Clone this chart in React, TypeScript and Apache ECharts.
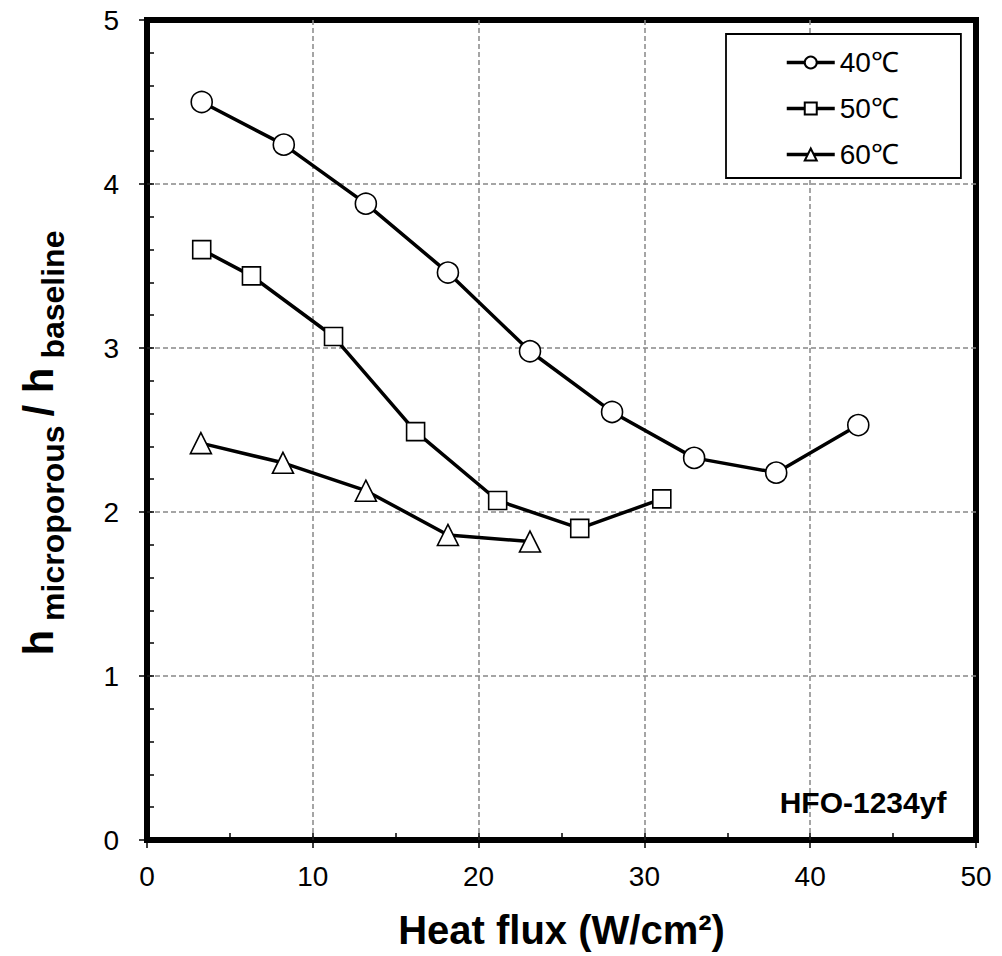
import React, { useEffect, useRef } from "react";
import * as echarts from "echarts";

const heatFlux40 = [3.3, 8.25, 13.2, 18.15, 23.1, 28.05, 33.0, 37.95, 42.9];
const ratio40 = [4.5, 4.24, 3.88, 3.46, 2.98, 2.61, 2.33, 2.24, 2.53];
const heatFlux50 = [3.3, 6.3, 11.25, 16.2, 21.15, 26.1, 31.05];
const ratio50 = [3.6, 3.44, 3.07, 2.49, 2.07, 1.9, 2.08];
const heatFlux60 = [3.25, 8.2, 13.2, 18.15, 23.1];
const ratio60 = [2.42, 2.3, 2.13, 1.86, 1.82];

const seriesNames = ["40℃", "50℃", "60℃"];
const xTicks = [0, 10, 20, 30, 40, 50];
const yTicks = [0, 1, 2, 3, 4, 5];

const FONT = "'Liberation Sans', Arial, sans-serif";

function pairs(xs: number[], ys: number[]) {
  return xs.map((x, i) => [x, ys[i]]);
}

export default function App() {
  const ref = useRef<HTMLDivElement>(null);
  useEffect(() => {
    if (!ref.current) return;
    const chart = echarts.init(ref.current, undefined, { renderer: "svg" });
    const lineSeries = (name: string, data: number[][], symbol: string, size: number) => ({
      name,
      type: "line",
      data,
      xAxisIndex: 0,
      yAxisIndex: 0,
      symbol,
      symbolSize: size,
      showAllSymbol: true,
      lineStyle: { color: "#000", width: 3.5 },
      itemStyle: { color: "#fff", borderColor: "#000", borderWidth: 1.6 },
      emphasis: { disabled: true },
      z: 3,
    });
    const gridLine = { show: true, showMinLine: false, showMaxLine: false, lineStyle: { color: "#888", width: 1.5, type: [5, 3] } };
    chart.setOption({
      animation: false,
      backgroundColor: "#fff",
      grid: {
        left: 147,
        top: 20,
        right: 26,
        bottom: 116,
        show: true,
        borderColor: "#000",
        borderWidth: 6,
        backgroundColor: "transparent",
        containLabel: false,
      },
      xAxis: [
        {
          type: "value",
          min: xTicks[0],
          max: xTicks[xTicks.length - 1],
          interval: 10,
          position: "bottom",
          axisLine: { show: false },
          axisTick: { show: true, inside: false, length: 8, lineStyle: { color: "#000", width: 1.5 } },
          axisLabel: { color: "#000", fontSize: 28, fontFamily: FONT, margin: 22 },
          splitLine: gridLine,
          name: "Heat flux (W/cm²)",
          nameLocation: "middle",
          nameGap: 70,
          nameTextStyle: { color: "#000", fontSize: 40, fontWeight: "bold", fontFamily: FONT },
        },
        {
          type: "value",
          min: 0,
          max: 50,
          interval: 5,
          position: "bottom",
          axisLine: { show: false },
          axisTick: { show: true, inside: true, length: 7, lineStyle: { color: "#000", width: 1.5 } },
          axisLabel: { show: false },
          splitLine: { show: false },
        },
      ],
      yAxis: [
        {
          type: "value",
          min: yTicks[0],
          max: yTicks[yTicks.length - 1],
          interval: 1,
          position: "left",
          axisLine: { show: false },
          axisTick: { show: true, inside: false, length: 8, lineStyle: { color: "#000", width: 1.5 } },
          axisLabel: { color: "#000", fontSize: 28, fontFamily: FONT, margin: 28 },
          splitLine: gridLine,
        },
        {
          type: "value",
          min: 0,
          max: 5,
          interval: 0.2,
          position: "left",
          axisLine: { show: false },
          axisTick: { show: true, inside: true, length: 7, lineStyle: { color: "#000", width: 1.5 } },
          axisLabel: { show: false },
          splitLine: { show: false },
        },
      ],
      legend: {
        data: seriesNames,
        orient: "vertical",
        left: 726,
        top: 34,
        padding: [14, 62, 9, 59],
        itemGap: 17,
        itemWidth: 48,
        itemHeight: 15,
        backgroundColor: "#fff",
        borderColor: "#000",
        borderWidth: 1.8,
        borderRadius: 0,
        lineStyle: { width: 3.5, color: "#000" },
        textStyle: { color: "#000", fontSize: 28, lineHeight: 29, fontFamily: FONT },
        selectedMode: false,
      },
      graphic: [
        {
          type: "text",
          x: 863,
          y: 802,
          style: {
            text: "HFO-1234yf",
            fill: "#000",
            font: `bold 30px ${FONT}`,
            align: "center",
            verticalAlign: "middle",
          },
          z: 10,
        },
        {
          type: "text",
          x: 40,
          y: 443,
          rotation: Math.PI / 2,
          style: {
            text: "{h|h}{s| microporous }{h|/ h}{s| baseline}",
            fill: "#000",
            align: "center",
            verticalAlign: "middle",
            rich: {
              h: { fontSize: 42, fontWeight: "bold", fontFamily: FONT, fill: "#000", verticalAlign: "top", lineHeight: 46 },
              s: { fontSize: 32, fontWeight: "bold", fontFamily: FONT, fill: "#000", verticalAlign: "top", lineHeight: 32, padding: [20, 0, 0, 0] },
            },
          },
          z: 10,
        },
      ],
      series: [
        lineSeries(seriesNames[0], pairs(heatFlux40, ratio40), "circle", 21),
        lineSeries(seriesNames[1], pairs(heatFlux50, ratio50), "rect", 18),
        lineSeries(seriesNames[2], pairs(heatFlux60, ratio60), "triangle", 21),
      ],
    });
    return () => chart.dispose();
  }, []);
  return <div ref={ref} style={{ width: 1002, height: 956, position: "absolute", left: 0, top: 0 }} />;
}
